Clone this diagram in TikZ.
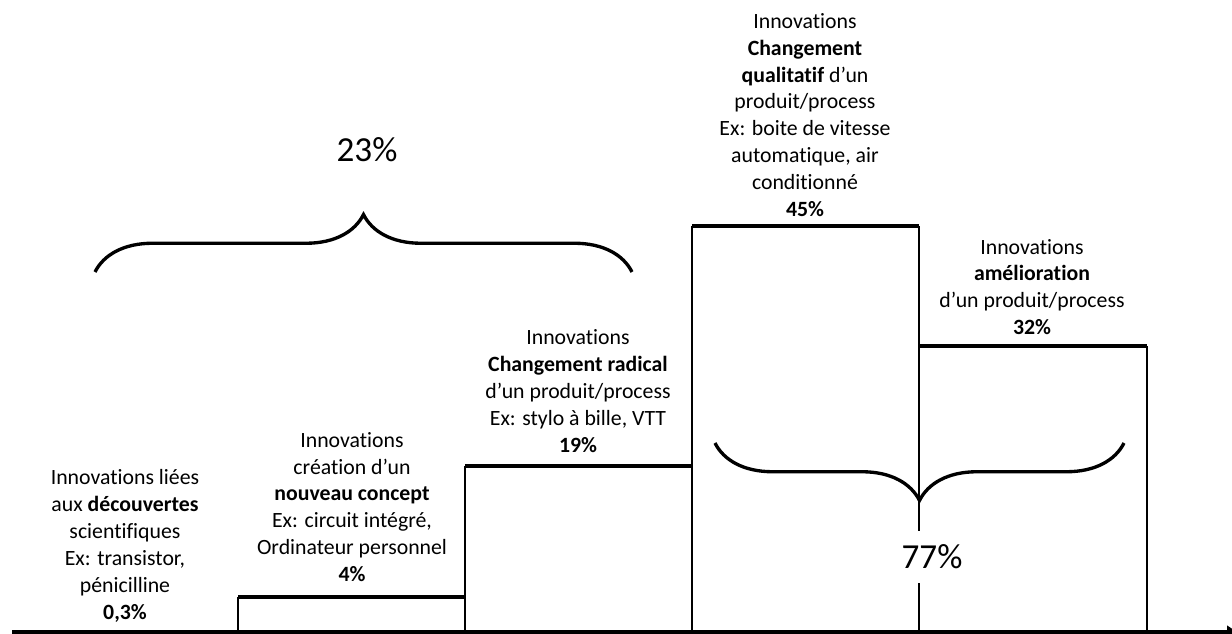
\documentclass[tikz,border=0pt]{standalone}
\usepackage{fontspec}
\setmainfont[Ligatures=NoCommon]{Carlito}
\usetikzlibrary{arrows.meta,decorations.pathreplacing}

\tikzset{
  side/.style={line width=0.75pt},
  bartop/.style={line width=2.6pt},
  axis/.style={line width=2.6pt,-{Triangle[length=0.2cm,width=0.25cm]}},
  bigbrace/.style={line width=1.9pt,decorate,decoration={brace,amplitude=1.15cm}},
  label/.style={align=center,font=\fontsize{12.4}{15.3}\selectfont},
  share/.style={font=\fontsize{20}{24}\selectfont}
}

\begin{document}
\begin{tikzpicture}[x=0.02cm,y=-0.02cm]
    \useasboundingbox (0,0) rectangle (1232,634);
    % bars
    \draw [side] (238,632) --(238,597);
    \draw [side] (465,632) --(465,466);
    \draw [side] (692,632) --(692,226);
    \draw [side] (919,632) --(919,226);
    \draw [side] (1147,632) --(1147,346);
    \draw [bartop] (238,597) --(465,597);
    \draw [bartop] (465,466) --(692,466);
    \draw [bartop] (692,226) --(919,226);
    \draw [bartop] (919,346) --(1147,346);
    \draw [axis] (12,632) --(1237,632);
    % labels
    \node [label] (decouv) at (125,546) {Innovations liées\\aux \textbf{découvertes}\\scientifiques\\Ex: transistor,\\pénicilline\\\textbf{0,3\%}};
    \node [label] (concept) at (352,507) {Innovations\\création d'un\\\textbf{nouveau concept}\\Ex: circuit intégré,\\Ordinateur personnel\\\textbf{4\%}};
    \node [label] (radical) at (578,391) {Innovations\\\textbf{Changement radical}\\d'un produit/process\\Ex: stylo à bille, VTT\\\textbf{19\%}};
    \node [label] (qualit) at (805,115) {Innovations\\\textbf{Changement}\\\textbf{qualitatif} d'un\\produit/process\\Ex: boite de vitesse\\automatique, air\\conditionné\\\textbf{45\%}};
    \node [label] (amelio) at (1032,287) {Innovations\\\textbf{amélioration}\\d'un produit/process\\\textbf{32\%}};
    % braces
    \draw [bigbrace] (95,272) --(632,272);
    \draw [bigbrace] (1124,443) --(715,443);
    \node [share] (part23) at (367,150) {23\%};
    \node [share, fill=white, inner sep=0.28cm] (part77) at (932,557) {77\%};
\end{tikzpicture}
\end{document}
